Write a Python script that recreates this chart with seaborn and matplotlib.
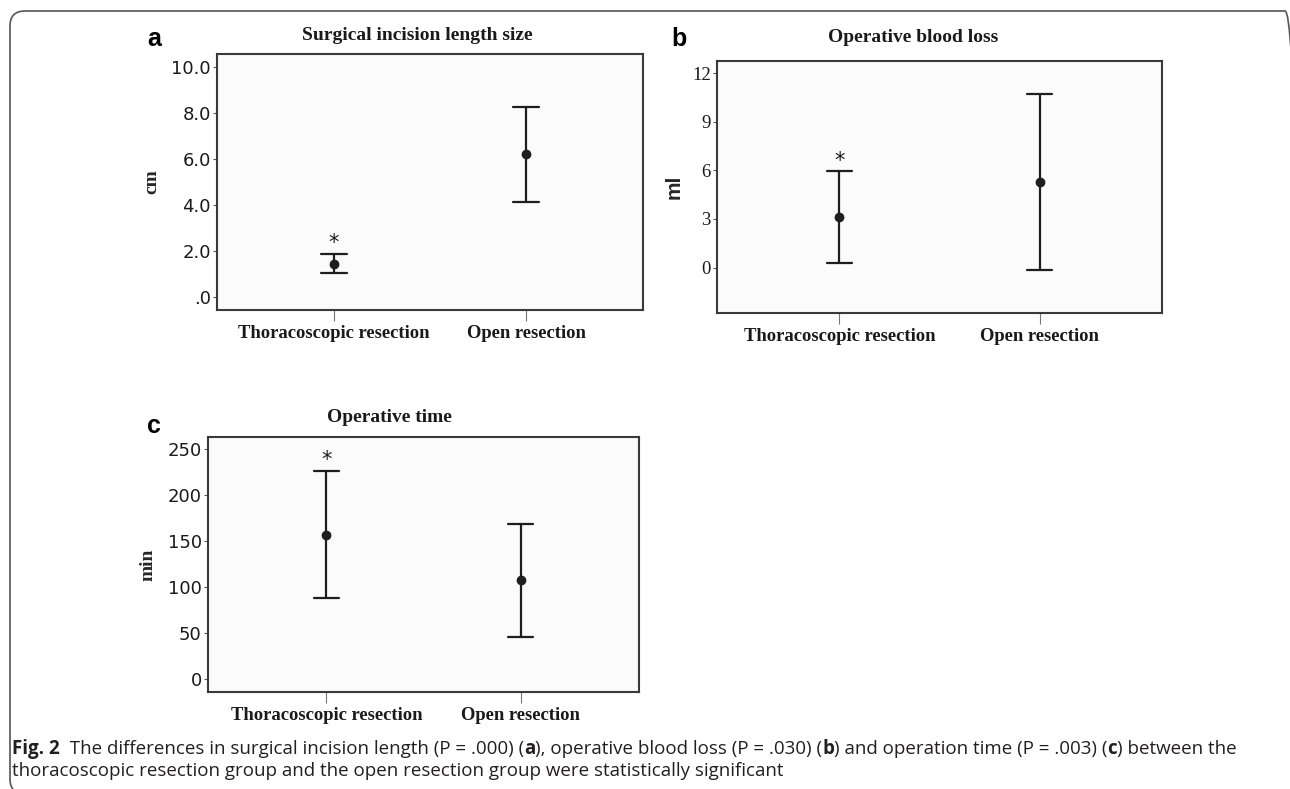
import numpy as np
import pandas as pd
import seaborn as sns
import matplotlib.pyplot as plt
from matplotlib.patches import FancyBboxPatch

groups = ["Thoracoscopic resection", "Open resection"]

# panel a - surgical incision length (cm)
incision_mean = [1.45, 6.20]
incision_low = [1.04, 4.13]
incision_high = [1.87, 8.25]

# panel b - operative blood loss (ml)
blood_mean = [3.12, 5.28]
blood_low = [0.31, -0.12]
blood_high = [5.94, 10.72]

# panel c - operative time (min)
time_mean = [157.0, 107.6]
time_low = [88.7, 46.3]
time_high = [226.0, 168.8]

W, H = 1290, 789

sns.set_theme(style="ticks")
plt.rcParams["font.family"] = ["DejaVu Sans"]

fig = plt.figure(figsize=(W / 100, H / 100), dpi=100)


def px_axes(left, top, right, bottom):
    return fig.add_axes([left / W, 1 - bottom / H, (right - left) / W, (bottom - top) / H])


def fx(x):
    return x / W


def fy(y):
    return 1 - y / H


def long_frame(mean, low, high):
    # each group: low / mean / high -> median is the mean, 0-100 pct interval is the bar
    rows = []
    for g, m, lo, hi in zip(groups, mean, low, high):
        for v in (lo, m, hi):
            rows.append({"group": g, "value": v})
    return pd.DataFrame(rows)


def draw_panel(ax, mean, low, high, ylim, yticks, yticklabels, tickfont, capsize):
    df = long_frame(mean, low, high)
    sns.pointplot(data=df, x="group", y="value", order=groups, estimator="median",
                  errorbar=("pi", 100), capsize=capsize, color="#1e1e1e",
                  linestyle="none", markersize=5, err_kws={"linewidth": 1.6}, ax=ax)
    ax.set_xlim(-0.61, 1.61)
    ax.set_ylim(*ylim)
    ax.set_yticks(yticks)
    ax.set_yticklabels(yticklabels, **tickfont)
    ax.set_xticks([0, 1])
    ax.set_xticklabels(groups, family="Liberation Serif", weight="bold", fontsize=13.4,
                       color="#1a1a1a")
    ax.set_xlabel("")
    ax.set_facecolor("#fbfbfb")
    for s in ax.spines.values():
        s.set_visible(True)
        s.set_color("#3a3a3a")
        s.set_linewidth(1.5)
    ax.tick_params(axis="x", length=8, width=0.8, color="#777777", pad=3)
    ax.tick_params(axis="y", length=3, width=0.8, color="#555555", pad=1.5)
    # significance mark over the thoracoscopic group
    ax.annotate("*", xy=(0, high[0]), xytext=(0, 0.5), textcoords="offset points",
                ha="center", va="bottom", fontsize=15, color="#1a1a1a")


sans_ticks = {"family": "DejaVu Sans", "fontsize": 13, "color": "#1a1a1a"}
serif_ticks = {"family": "Liberation Serif", "fontsize": 13.5, "color": "#1a1a1a"}

ax_a = px_axes(217, 54, 643, 310)
draw_panel(ax_a, incision_mean, incision_low, incision_high, (-0.57, 10.57),
           [0, 2, 4, 6, 8, 10], [".0", "2.0", "4.0", "6.0", "8.0", "10.0"], sans_ticks, 0.135)
ax_a.set_ylabel("cm", family="Liberation Serif", weight="bold", fontsize=14)
ax_a.yaxis.set_label_coords(-0.134, 0.5)

ax_b = px_axes(717, 61, 1162, 313)
draw_panel(ax_b, blood_mean, blood_low, blood_high, (-2.8, 12.74),
           [0, 3, 6, 9, 12], ["0", "3", "6", "9", "12"], serif_ticks, 0.126)
ax_b.set_ylabel("ml", family="Liberation Sans", weight="bold", fontsize=15)
ax_b.yaxis.set_label_coords(-0.075, 0.5)

ax_c = px_axes(208, 437, 639, 692)
draw_panel(ax_c, time_mean, time_low, time_high, (-13.8, 263),
           [0, 50, 100, 150, 200, 250], ["0", "50", "100", "150", "200", "250"], sans_ticks, 0.13)
ax_c.set_ylabel("min", family="Liberation Serif", weight="bold", fontsize=14)
ax_c.yaxis.set_label_coords(-0.12, 0.5)

# panel titles and letters
title_kw = dict(family="Liberation Serif", weight="bold", fontsize=14, ha="center",
                va="baseline", color="#1a1a1a")
fig.text(fx(417), fy(40), "Surgical incision length size", **title_kw)
fig.text(fx(913), fy(42.5), "Operative blood loss", **title_kw)
fig.text(fx(389), fy(422.5), "Operative time", **title_kw)

letter_kw = dict(family="Liberation Sans", weight="bold", fontsize=18, ha="center",
                 va="baseline", color="black")
fig.text(fx(154), fy(45.5), "a", **letter_kw)
fig.text(fx(679), fy(45.5), "b", **letter_kw)
fig.text(fx(154), fy(433), "c", **letter_kw)

# caption with bold runs
renderer = fig.canvas.get_renderer()


def runs(x, y, parts, size=13.5):
    for txt, wt in parts:
        t = fig.text(fx(x), fy(y), txt, family="Open Sans", weight=wt, fontsize=size,
                     ha="left", va="baseline", color="#231f20")
        x += t.get_window_extent(renderer).width


line1 = [("Fig. 2", "bold"), ("  The differences in surgical incision length (P = .000) (", "normal"),
         ("a", "bold"), ("), operative blood loss (P = .030) (", "normal"), ("b", "bold"),
         (") and operation time (P = .003) (", "normal"), ("c", "bold"), (") between the", "normal")]
line2 = [("thoracoscopic resection group and the open resection group were statistically significant",
          "normal")]
runs(12, 754, line1)
runs(12, 776, line2)

# rounded outer frame
frame = FancyBboxPatch((0.10, -0.05), 12.90, 7.83, boxstyle="round,pad=0,rounding_size=0.15",
                       transform=fig.dpi_scale_trans, fill=False, edgecolor="#555555",
                       linewidth=1.2, clip_on=False)
fig.patches.append(frame)

fig.savefig("out.png", dpi=100)
